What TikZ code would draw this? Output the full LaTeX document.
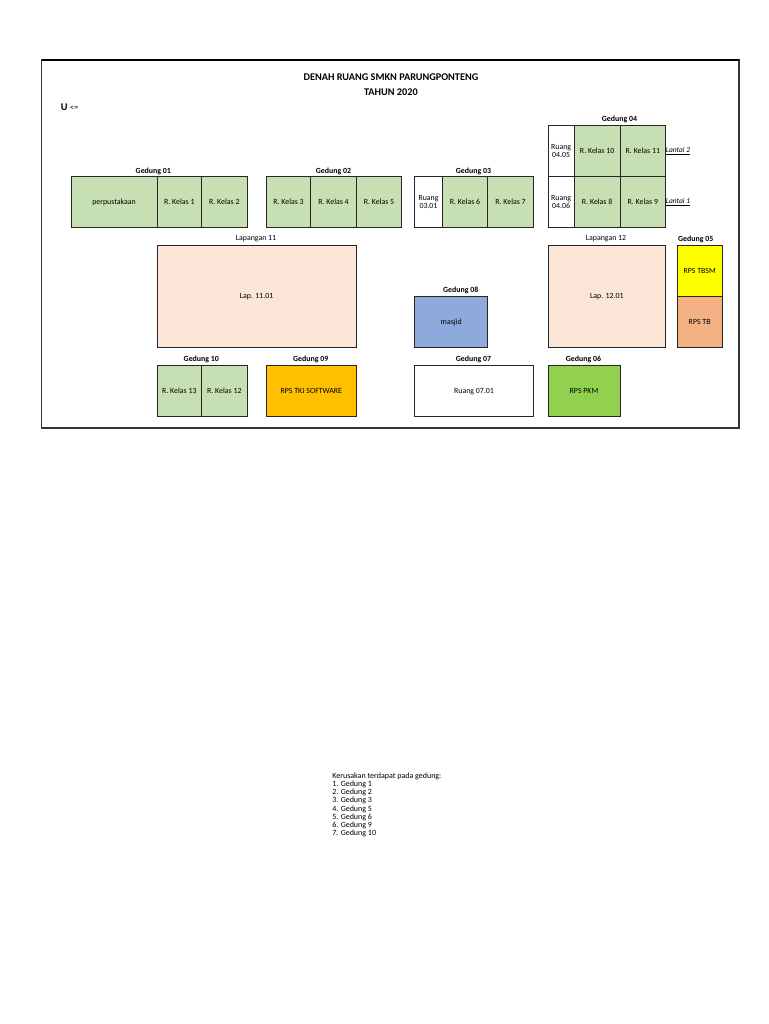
\documentclass[tikz,border=0pt]{standalone}
\usepackage{fontspec}
\setmainfont{Carlito}
\usetikzlibrary{positioning}
\newdimen\px
\px=0.75pt
\definecolor{kelas}{HTML}{C6E0B4}
\definecolor{lapangan}{HTML}{FBE5D6}
\definecolor{rpstbsm}{HTML}{FFFF00}
\definecolor{rpstb}{HTML}{F4B183}
\definecolor{rpstkj}{HTML}{FFC000}
\definecolor{masjid}{HTML}{8EA9DB}
\definecolor{rpspkm}{HTML}{92D050}
\tikzset{room/.style={draw=black!85,line width=0.9\px,inner sep=0pt,outer sep=0pt,align=center,
    font=\fontsize{5.9pt}{6.3pt}\selectfont,minimum height=51.4\px}}
\tikzset{kelasroom/.style={room,fill=kelas}}
\tikzset{gedung/.style={font=\fontsize{5.9pt}{6.3pt}\selectfont\bfseries,inner sep=0pt}}
\tikzset{lapcaption/.style={font=\fontsize{5.9pt}{6.3pt}\selectfont,inner sep=0pt}}
\tikzset{lantai/.style={anchor=west,inner sep=0pt,font=\fontsize{5.6pt}{6.2pt}\selectfont\itshape}}
\tikzset{judul/.style={font=\fontsize{7.7pt}{8pt}\selectfont\bfseries,inner sep=0pt}}
\begin{document}
\begin{tikzpicture}[x=0.75pt,y=-0.75pt]
    \useasboundingbox (0,0) rectangle (768,1024);
    \draw[line width=1.3\px,draw=black!80] (41.7,60) rectangle (739,428);
    \draw[line width=1.5\px] (41.7,60) -- (739,60);
    \node[judul] (title) at (391,77) {DENAH RUANG SMKN PARUNGPONTENG};
    \node[judul] (tahun) at (391,92.5) {TAHUN 2020};
    \node[judul,anchor=west] (utara) at (60.5,107) {U {\fontsize{6.5pt}{7pt}\selectfont\mdseries <=}};
    % baris atas
    \node[kelasroom,anchor=north west,minimum width=86\px] (perpus) at (71,176.3) {perpustakaan};
    \node[kelasroom,right=0pt of perpus,minimum width=44.7\px] (k1) {R. Kelas 1};
    \node[kelasroom,right=0pt of k1,minimum width=45.3\px] (k2) {R. Kelas 2};
    \node[kelasroom,anchor=north west,minimum width=44.4\px] (k3) at (266.3,176.3) {R. Kelas 3};
    \node[kelasroom,right=0pt of k3,minimum width=45.6\px] (k4) {R. Kelas 4};
    \node[kelasroom,right=0pt of k4,minimum width=45.4\px] (k5) {R. Kelas 5};
    \node[room,anchor=north west,minimum width=27.6\px] (r0301) at (414.7,176.3) {Ruang\\03.01};
    \node[kelasroom,right=0pt of r0301,minimum width=45.4\px] (k6) {R. Kelas 6};
    \node[kelasroom,right=0pt of k6,minimum width=45.6\px] (k7) {R. Kelas 7};
    \node[room,anchor=north west,minimum width=26.3\px] (r0406) at (548,176.3) {Ruang\\04.06};
    \node[kelasroom,right=0pt of r0406,minimum width=45.7\px] (k8) {R. Kelas 8};
    \node[kelasroom,right=0pt of k8,minimum width=45.7\px] (k9) {R. Kelas 9};
    \node[room,above=0pt of r0406,minimum width=26.3\px,minimum height=50.6\px] (r0405) {Ruang\\04.05};
    \node[kelasroom,above=0pt of k8,minimum width=45.7\px,minimum height=50.6\px] (k10) {R. Kelas 10};
    \node[kelasroom,above=0pt of k9,minimum width=45.7\px,minimum height=50.6\px] (k11) {R. Kelas 11};
    \node[lantai] (lt2) at (k11.east) {\underline{Lantai 2}};
    \node[lantai] (lt1) at (k9.east) {\underline{Lantai 1}};
    % lapangan
    \node[room,fill=lapangan,anchor=north west,minimum width=199.3\px,minimum height=102.3\px] (lap11) at (157,245) {Lap. 11.01};
    \node[room,fill=lapangan,anchor=north west,minimum width=117.7\px,minimum height=102.3\px] (lap12) at (548,245) {Lap. 12.01};
    \node[room,fill=rpstbsm,anchor=north west,minimum width=44.7\px] (tbsm) at (677.3,245) {RPS TBSM};
    \node[room,fill=rpstb,below=0pt of tbsm,minimum width=44.7\px,minimum height=50.6\px] (tb) {RPS TB};
    \node[room,fill=masjid,anchor=north west,minimum width=73\px,minimum height=50.6\px] (mesjid) at (414.7,296.7) {masjid};
    % baris bawah
    \node[kelasroom,anchor=north west,minimum width=44.7\px] (k13) at (157,365.5) {R. Kelas 13};
    \node[kelasroom,right=0pt of k13,minimum width=45.3\px] (k12) {R. Kelas 12};
    \node[room,fill=rpstkj,anchor=north west,minimum width=90\px] (tkj) at (266.3,365.5) {RPS TKJ SOFTWARE};
    \node[room,anchor=north west,minimum width=118.6\px] (r0701) at (414.7,365.5) {Ruang 07.01};
    \node[room,fill=rpspkm,anchor=north west,minimum width=72\px] (pkm) at (548,365.5) {RPS PKM};
    % nama gedung
    \node[gedung] (g01) at (153.3,171.3) {Gedung 01};
    \node[gedung] (g02) at (333.5,171.3) {Gedung 02};
    \node[gedung] (g03) at (473.5,171.3) {Gedung 03};
    \node[gedung] (g04) at (619.5,119.7) {Gedung 04};
    \node[gedung] (g05) at (695.7,239) {Gedung 05};
    \node[gedung] (g06) at (583.5,359.5) {Gedung 06};
    \node[gedung] (g07) at (473.5,359.5) {Gedung 07};
    \node[gedung] (g08) at (460.7,290.7) {Gedung 08};
    \node[gedung] (g09) at (310.7,359.5) {Gedung 09};
    \node[gedung] (g10) at (201.3,359.5) {Gedung 10};
    \node[lapcaption] (cap11) at (256,239) {Lapangan 11};
    \node[lapcaption] (cap12) at (606,239) {Lapangan 12};
    % catatan
    \node[anchor=north west,inner sep=0pt,align=left,font=\fontsize{6pt}{6.15pt}\selectfont] (catatan) at (332,772.5)
        {Kerusakan terdapat pada gedung:\\1. Gedung 1\\2. Gedung 2\\3. Gedung 3\\4. Gedung 5\\5. Gedung 6\\6. Gedung 9\\7. Gedung 10};
\end{tikzpicture}
\end{document}
